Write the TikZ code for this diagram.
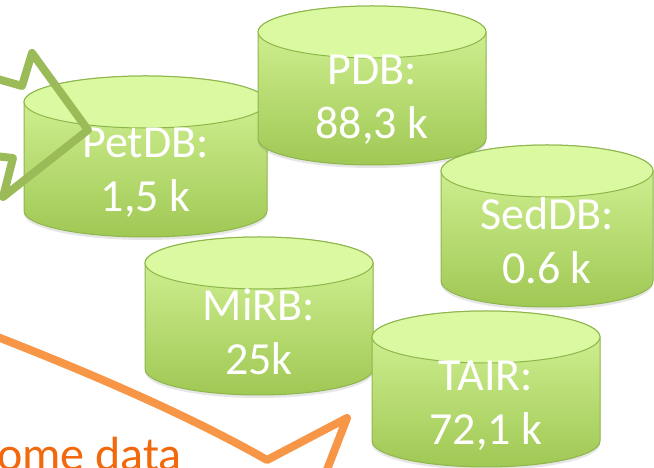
\documentclass[tikz,border=0pt]{standalone}
\usepackage{fontspec}
\setmainfont{Carlito}
\usepackage{tikz}
\usetikzlibrary{shadows}

\definecolor{dbtop}{RGB}{218,249,160}
\definecolor{dbhigh}{RGB}{214,245,154}
\definecolor{dblow}{RGB}{160,200,84}
\definecolor{dbline}{RGB}{142,182,76}
\definecolor{greenarrow}{RGB}{155,187,89}
\definecolor{orangearrow}{RGB}{247,150,70}
\definecolor{orangetext}{RGB}{242,104,12}

\tikzset{
  dbbody/.style={draw=dbline,line width=1pt,top color=dbhigh,bottom color=dblow,
    drop shadow={shadow xshift=0pt,shadow yshift=-3pt,opacity=.2}},
  dbend/.style={draw=dbline,line width=1pt,fill=dbtop},
  dblabel/.style={text=white,align=center,font=\fontsize{46}{54}\selectfont},
  bigarrow/.style={line width=8pt,line join=round}
}

\begin{document}
\begin{tikzpicture}[x=1pt,y=1pt]
\useasboundingbox (0,0) rectangle (654,468);
\clip (0,0) rectangle (654,468);

\foreach \cx/\yt/\yb/\rx/\ty/\nm/\txt in {
  145.5/366/257/121.5/295/petdb/{PetDB:\\1,5 k},
  372/436/329/114/368/pdb/{PDB:\\88,3 k},
  547/297/187/106/227/seddb/{SedDB:\\0.6 k},
  259/205/99/114/136/mirb/{MiRB:\\25k},
  486/131/27/114/62/tair/{TAIR:\\72,1 k}}
{
  \path[dbbody] (\cx-\rx,\yt) -- (\cx-\rx,\yb) arc (180:360:\rx pt and 26pt)
    -- (\cx+\rx,\yt) arc (0:180:\rx pt and 26pt) -- cycle;
  \draw[dbend] (\cx,\yt) ellipse (\rx pt and 26pt);
  \node[dblabel] (\nm) at (\cx,\ty) {\txt};
}

% arrows coming in
\draw[bigarrow,greenarrow] (-6,390) -- (22,382) -- (32,415) -- (88,338)
  -- (3,271) -- (13,310) -- (-6,312);
\draw[bigarrow,orangearrow] (-5,132) .. controls (90,95) and (190,52) .. (267,8)
  -- (347,50) -- (318,-25);

\node[anchor=base west,text=orangetext,font=\fontsize{48}{54}\selectfont,inner sep=0pt]
  (somedata) at (-3,-3) {ome data};
\end{tikzpicture}
\end{document}
